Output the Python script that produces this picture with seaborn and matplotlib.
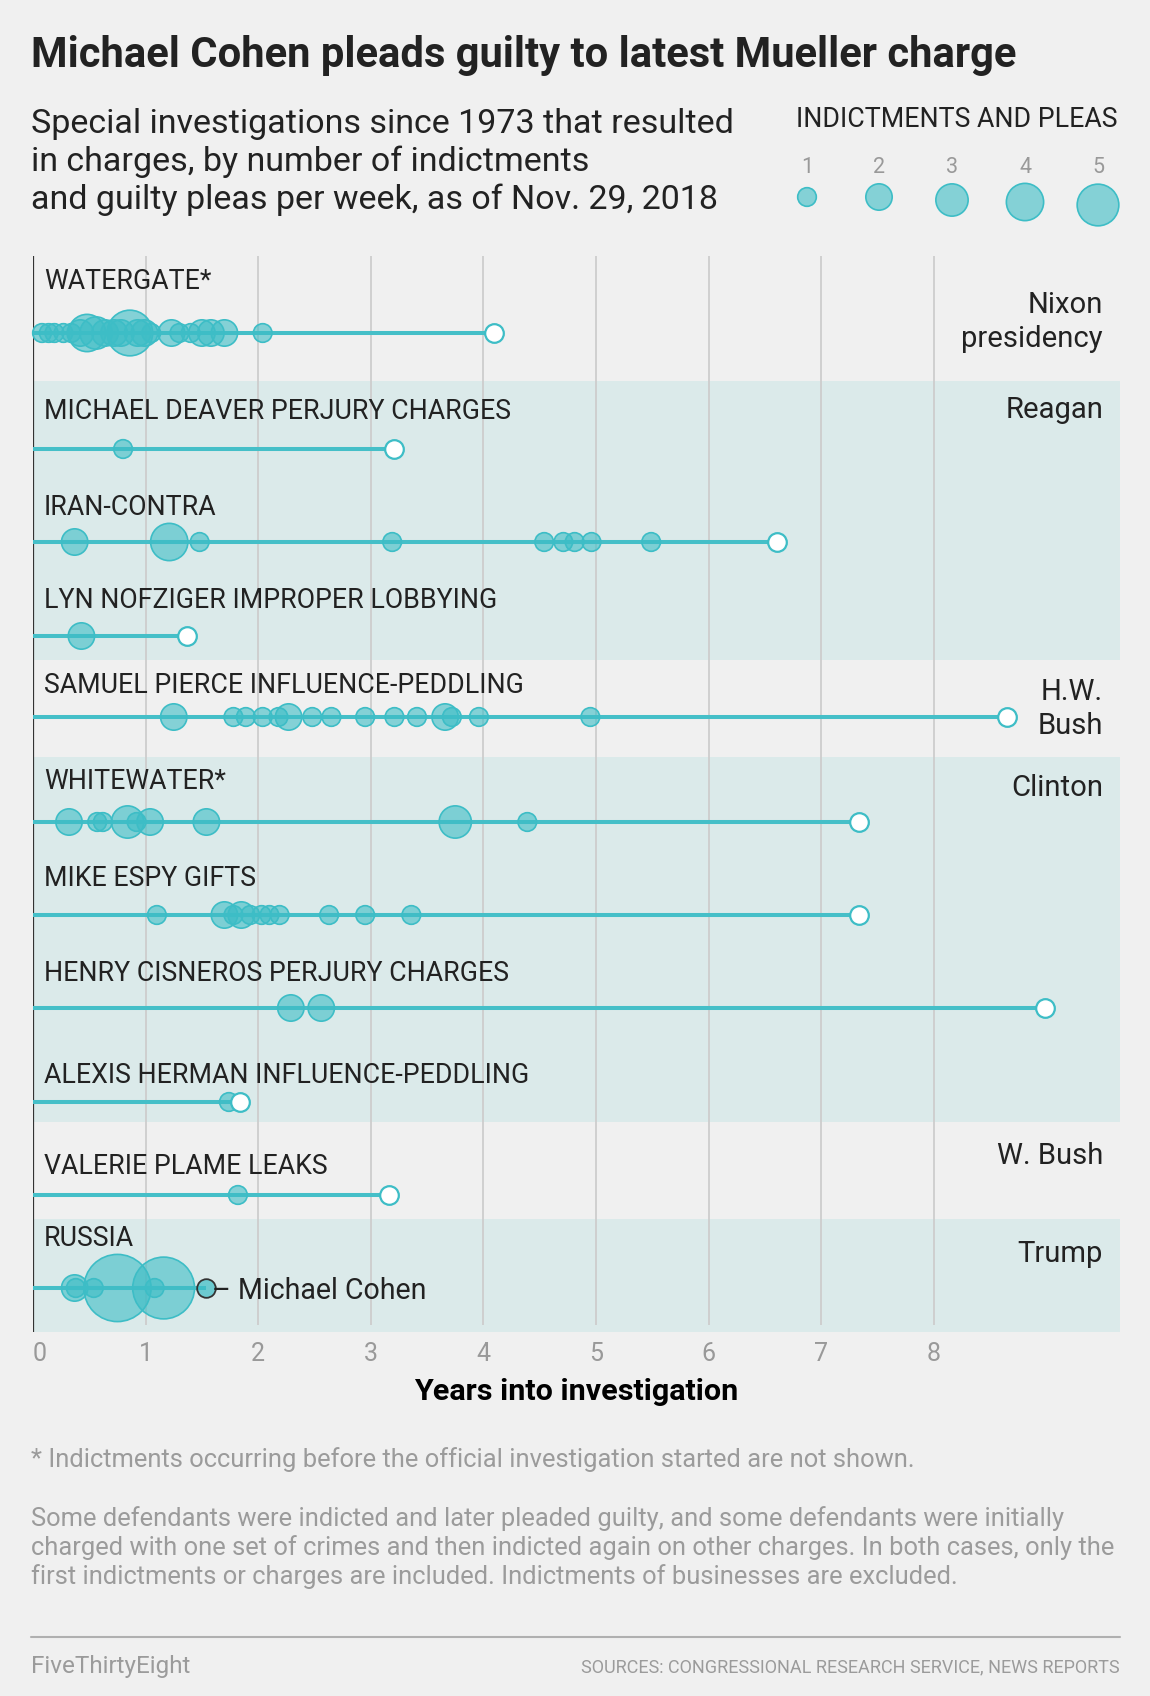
import matplotlib
matplotlib.use("Agg")
import matplotlib.pyplot as plt
from matplotlib.colors import to_rgb
import numpy as np
import pandas as pd
import seaborn as sns

# ---------------- data ----------------
investigations = ["WATERGATE*", "MICHAEL DEAVER PERJURY CHARGES", "IRAN-CONTRA",
                  "LYN NOFZIGER IMPROPER LOBBYING", "SAMUEL PIERCE INFLUENCE-PEDDLING",
                  "WHITEWATER*", "MIKE ESPY GIFTS", "HENRY CISNEROS PERJURY CHARGES",
                  "ALEXIS HERMAN INFLUENCE-PEDDLING", "VALERIE PLAME LEAKS", "RUSSIA"]
end_years = [4.09, 3.21, 6.61, 1.37, 8.65, 7.34, 7.34, 8.99, 1.84, 3.16, 1.54]
has_end_marker = [True, True, True, True, True, True, True, True, True, True, False]

watergate_years = [0.08, 0.14, 0.19, 0.27, 0.34, 0.42, 0.48, 0.56, 0.64, 0.72, 0.78,
                   0.86, 0.93, 0.99, 1.05, 1.23, 1.30, 1.40, 1.50, 1.58, 1.70, 2.04]
watergate_counts = [1, 1, 1, 1, 1, 2, 4, 3, 2, 2, 2, 6, 2, 2, 1, 2, 1, 1, 2, 2, 2, 1]
deaver_years = [0.80]
deaver_counts = [1]
iran_contra_years = [0.37, 1.21, 1.48, 3.19, 4.54, 4.71, 4.81, 4.96, 5.49]
iran_contra_counts = [2, 4, 1, 1, 1, 1, 1, 1, 1]
nofziger_years = [0.43]
nofziger_counts = [2]
pierce_years = [1.25, 1.78, 1.89, 2.04, 2.18, 2.27, 2.48, 2.65, 2.95, 3.21, 3.41,
                3.66, 3.72, 3.96, 4.95]
pierce_counts = [2, 1, 1, 1, 1, 2, 1, 1, 1, 1, 1, 2, 1, 1, 1]
whitewater_years = [0.32, 0.57, 0.62, 0.84, 0.92, 1.04, 1.54, 3.75, 4.39]
whitewater_counts = [2, 1, 1, 3, 1, 2, 2, 3, 1]
espy_years = [1.10, 1.70, 1.78, 1.85, 1.93, 2.03, 2.10, 2.19, 2.63, 2.95, 3.36]
espy_counts = [1, 2, 1, 2, 1, 1, 1, 1, 1, 1, 1]
cisneros_years = [2.29, 2.56]
cisneros_counts = [2, 2]
herman_years = [1.74]
herman_counts = [1]
plame_years = [1.82]
plame_counts = [1]
russia_years = [0.37, 0.38, 0.54, 0.75, 1.08, 1.16]
russia_counts = [2, 1, 1, 13, 1, 11]
cohen_year = 1.54
cohen_count = 1
cohen_label = "– Michael Cohen"

event_years = [watergate_years, deaver_years, iran_contra_years, nofziger_years,
               pierce_years, whitewater_years, espy_years, cisneros_years,
               herman_years, plame_years, russia_years]
event_counts = [watergate_counts, deaver_counts, iran_contra_counts, nofziger_counts,
                pierce_counts, whitewater_counts, espy_counts, cisneros_counts,
                herman_counts, plame_counts, russia_counts]

presidencies = [["Nixon", "presidency"], ["Reagan"], ["H.W.", "Bush"], ["Clinton"],
                ["W. Bush"], ["Trump"]]
presidency_shaded = [False, True, False, True, False, True]

legend_counts = [1, 2, 3, 4, 5]
x_ticks = [0, 1, 2, 3, 4, 5, 6, 7, 8]
x_tick_labels = ["0", "1", "2", "3", "4", "5", "6", "7", "8"]

title = "Michael Cohen pleads guilty to latest Mueller charge"
subtitle = ["Special investigations since 1973 that resulted",
            "in charges, by number of indictments",
            "and guilty pleas per week, as of Nov. 29, 2018"]
legend_title = "INDICTMENTS AND PLEAS"
x_label = "Years into investigation"
note1 = "* Indictments occurring before the official investigation started are not shown."
note2 = ["Some defendants were indicted and later pleaded guilty, and some defendants were initially",
         "charged with one set of crimes and then indicted again on other charges. In both cases, only the",
         "first indictments or charges are included. Indictments of businesses are excluded."]
brand = "FiveThirtyEight"
sources = "SOURCES: CONGRESSIONAL RESEARCH SERVICE, NEWS REPORTS"

# ---------------- layout (page pixels) ----------------
W, H = 1150, 1696
BG = "#f0f0f0"
BAND = "#dbeaea"
TEAL = "#3dbdc6"
LINE = "#45bfc8"
GRID = "#cdcdcd"
DARK = "#222222"
GRAY = "#9b9b9b"

X0, X1 = 33, 1120
Y0, Y1 = 256, 1332
PX_PER_YEAR = 112.6
XMAX = (X1 - X0) / PX_PER_YEAR

row_line_y = [333, 449, 542, 636, 717, 822, 915, 1008, 1102, 1195, 1288]
row_label_base = [289, 419, 515, 608, 693, 789, 886, 981, 1083, 1174, 1246]
band_bounds = [(256, 381), (381, 660), (660, 757), (757, 1122), (1122, 1219), (1219, 1332)]
pres_base = [[313, 347], [418], [700, 734], [796], [1164], [1262]]
legend_x = [807, 879, 952, 1025, 1098]
legend_y = [197, 197, 200, 202, 205]

S_UNIT = 180.0  # marker area (pt^2) per indictment

sns.set_theme(style="white")
plt.rcParams["font.family"] = ["Roboto", "DejaVu Sans"]

fig = plt.figure(figsize=(W / 100, H / 100), dpi=100, facecolor=BG)

ax = fig.add_axes([X0 / W, 1 - Y1 / H, (X1 - X0) / W, (Y1 - Y0) / H])
ax.set_zorder(1)
ax.set_xlim(0, XMAX)
ax.set_ylim(Y1, Y0)
ax.set_facecolor("none")
for s in ax.spines.values():
    s.set_visible(False)

bg = fig.add_axes([0, 0, 1, 1])
bg.set_zorder(2)
bg.set_xlim(0, W)
bg.set_ylim(H, 0)
bg.axis("off")
bg.patch.set_visible(False)

# bands
for (t, b), shaded in zip(band_bounds, presidency_shaded):
    if shaded:
        ax.axhspan(t, b, color=BAND, zorder=0, lw=0)

# gridlines & axis line
ax.vlines(x_ticks[1:], Y0, 1325, color=GRID, lw=1.3, zorder=1)
ax.axvline(0, color="#333333", lw=1.6, zorder=2)

# lines per investigation
ax.hlines(row_line_y, 0, end_years, color=LINE, lw=2.9, zorder=2, capstyle="butt")

# events
frames = []
for yrs, cnts, yy in zip(event_years, event_counts, row_line_y):
    frames.append(pd.DataFrame({"year": yrs, "count": cnts, "y": yy}))
events = pd.concat(frames, ignore_index=True)

sns.scatterplot(data=events, x="year", y="y", size="count", sizes=(0, S_UNIT * 20),
                size_norm=(0, 20), color=TEAL, linewidth=1.2, legend=False, ax=ax,
                zorder=3, clip_on=False)
coll = ax.collections[-1]
coll.set_facecolor((*to_rgb(TEAL), 0.6))
coll.set_edgecolor(TEAL)

# end markers
ends = pd.DataFrame({"year": [e for e, h in zip(end_years, has_end_marker) if h],
                     "y": [y for y, h in zip(row_line_y, has_end_marker) if h]})
sns.scatterplot(data=ends, x="year", y="y", s=S_UNIT, color="white", edgecolor=TEAL,
                linewidth=1.6, legend=False, ax=ax, zorder=4, clip_on=False)

# Cohen
cohen = pd.DataFrame({"year": [cohen_year], "y": [row_line_y[-1]], "count": [cohen_count]})
sns.scatterplot(data=cohen, x="year", y="y", s=S_UNIT * cohen_count, color=TEAL,
                legend=False, ax=ax, zorder=5, clip_on=False, linewidth=1.3)
c2 = ax.collections[-1]
c2.set_facecolor((*to_rgb(TEAL), 0.7))
c2.set_edgecolor("#333333")
cohen_txt = ax.annotate(cohen_label, xy=(cohen_year, row_line_y[-1]), xytext=(4, 0),
                        textcoords="offset points", va="center_baseline", ha="left",
                        fontsize=20, color=DARK, zorder=6)

# ticks
ax.set_yticks([])
ax.set_xticks(x_ticks)
ax.set_xticklabels(x_tick_labels)
ax.tick_params(axis="x", length=0, pad=7, labelsize=18, labelcolor="#999999")
ax.get_xticklabels()[0].set_ha("left")
ax.set_xlabel("")
ax.set_ylabel("")

renderer = fig.canvas.get_renderer()


def fit(t, target):
    w = t.get_window_extent(renderer=renderer).width
    t.set_fontsize(t.get_fontsize() * target / w)
    return t.get_fontsize()


# row labels
row_texts = []
for name, yb in zip(investigations, row_label_base):
    row_texts.append(bg.text(44, yb, name, fontsize=16, color=DARK, va="baseline", ha="left"))
fs = fit(row_texts[1], 467)
for t in row_texts:
    t.set_fontsize(fs)

# presidency labels
pres_texts = []
for lines, bases in zip(presidencies, pres_base):
    for ln, yb in zip(lines, bases):
        pres_texts.append(bg.text(1103, yb, ln, fontsize=20, color=DARK, va="baseline", ha="right"))
fs = fit(pres_texts[1], 141)
for t in pres_texts:
    t.set_fontsize(fs)

fit(cohen_txt, 215)

# title & subtitle
t = bg.text(31, 67, title, fontsize=24, fontweight="bold", color=DARK, va="baseline", ha="left")
fit(t, 988)
sub_texts = [bg.text(31, yb, s, fontsize=20, color=DARK, va="baseline", ha="left")
             for s, yb in zip(subtitle, [133, 171, 209])]
fs = fit(sub_texts[0], 699)
for tt in sub_texts:
    tt.set_fontsize(fs)

# legend
lt = bg.text(1118, 127, legend_title, fontsize=16, color=DARK, va="baseline", ha="right")
fit(lt, 322)
for lx, lc in zip(legend_x, legend_counts):
    bg.text(lx, 173, str(lc), fontsize=15.5, color="#999999", va="baseline", ha="center")
leg = pd.DataFrame({"x": legend_x, "y": legend_y, "count": legend_counts})
sns.scatterplot(data=leg, x="x", y="y", size="count", sizes=(0, S_UNIT * 20),
                size_norm=(0, 20), color=TEAL, linewidth=1.2, legend=False, ax=bg,
                zorder=3, clip_on=False)
lc = bg.collections[-1]
lc.set_facecolor((*to_rgb(TEAL), 0.6))
lc.set_edgecolor(TEAL)

# x label
xl = bg.text(576, 1400, x_label, fontsize=18, fontweight="bold", color="black",
             va="baseline", ha="center")
fit(xl, 325)

# notes
n1 = bg.text(31, 1467, note1, fontsize=15, color=GRAY, va="baseline", ha="left")
fs = fit(n1, 886)
for s, yb in zip(note2, [1526, 1555, 1584]):
    bg.text(31, yb, s, fontsize=fs, color=GRAY, va="baseline", ha="left")

bg.plot([31, 1120], [1637, 1637], color="#b0b0b0", lw=1.5)
b1 = bg.text(31, 1673, brand, fontsize=15, color=GRAY, va="baseline", ha="left")
fit(b1, 160)
s1 = bg.text(1120, 1672, sources, fontsize=13, color=GRAY, va="baseline", ha="right")
fit(s1, 539)

fig.savefig("out.png", dpi=100, facecolor=BG)
